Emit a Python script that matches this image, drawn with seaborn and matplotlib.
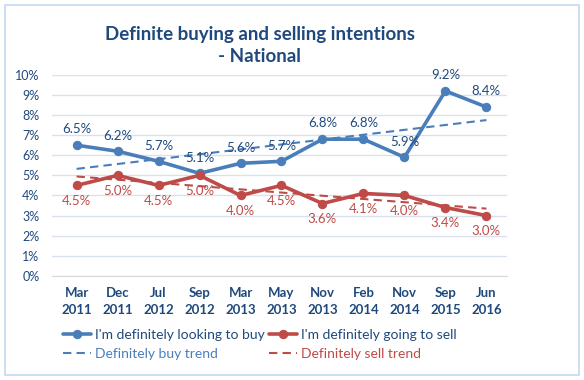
import numpy as np
import pandas as pd
import matplotlib
matplotlib.use("Agg")
import matplotlib.pyplot as plt
from matplotlib.patches import Rectangle
from matplotlib.ticker import FuncFormatter, FixedLocator
import seaborn as sns

# ---- Data ----------------------------------------------------------------
periods = ["Mar\n2011", "Dec\n2011", "Jul\n2012", "Sep\n2012", "Mar\n2013", "May\n2013",
           "Nov\n2013", "Feb\n2014", "Nov\n2014", "Sep\n2015", "Jun\n2016"]
buy_pct = [6.5, 6.2, 5.7, 5.1, 5.6, 5.7, 6.8, 6.8, 5.9, 9.2, 8.4]
sell_pct = [4.5, 5.0, 4.5, 5.0, 4.0, 4.5, 3.6, 4.1, 4.0, 3.4, 3.0]

BUY_COL = "#4A7EBB"
SELL_COL = "#BE4B48"
NAVY = "#1F497D"

idx = np.arange(len(periods))
df = pd.DataFrame({"idx": idx, "buy": buy_pct, "sell": sell_pct})

# linear trend lines, as Excel draws them
df["buy_trend"] = np.polyval(np.polyfit(idx, df["buy"], 1), idx)
df["sell_trend"] = np.polyval(np.polyfit(idx, df["sell"], 1), idx)

sns.set_style("white")
plt.rcParams["font.family"] = ["Lato", "DejaVu Sans"]

fig = plt.figure(figsize=(5.84, 3.80), dpi=100)
ax = fig.add_axes([0.089, 0.274, 0.779, 0.529])

sns.lineplot(data=df, x="idx", y="buy_trend", ax=ax, color=BUY_COL, lw=1.5,
             linestyle=(0, (4, 2.5)), label="Definitely buy trend")
sns.lineplot(data=df, x="idx", y="sell_trend", ax=ax, color=SELL_COL, lw=1.5,
             linestyle=(0, (4, 2.5)), label="Definitely sell trend")
sns.lineplot(data=df, x="idx", y="buy", ax=ax, color=BUY_COL, lw=2.6, marker="o",
             markersize=6, markeredgecolor=BUY_COL, label="I'm definitely looking to buy")
sns.lineplot(data=df, x="idx", y="sell", ax=ax, color=SELL_COL, lw=2.6, marker="o",
             markersize=6, markeredgecolor=SELL_COL, label="I'm definitely going to sell")

for i, (b, s) in enumerate(zip(buy_pct, sell_pct)):
    ax.annotate(f"{b:.1f}%", (i, b), xytext=(0, 7), textcoords="offset points",
                ha="center", va="bottom", fontsize=9.5, color=NAVY)
    ax.annotate(f"{s:.1f}%", (i, s), xytext=(0, -7), textcoords="offset points",
                ha="center", va="top", fontsize=9.5, color=SELL_COL)

ax.set_xlim(-0.6, 10.5)
ax.set_ylim(0, 10)
ax.set_yticks(range(0, 11))
ax.yaxis.set_major_formatter(FuncFormatter(lambda v, p: f"{int(v)}%"))
ax.set_xticks(idx)
ax.set_xticklabels(periods, fontsize=9.5, color=NAVY, fontweight="bold", linespacing=1.5)
ax.xaxis.set_minor_locator(FixedLocator(np.arange(-0.5, 11, 1)))
ax.tick_params(axis="x", which="major", length=0, pad=8)
ax.tick_params(axis="x", which="minor", length=4, color="#D9D9D9", direction="out")
ax.tick_params(axis="y", length=0, labelsize=9, labelcolor=NAVY, pad=9)
ax.grid(axis="y", color="#D9E1EE", lw=1)
ax.set_axisbelow(True)
for side in ["top", "right", "left"]:
    ax.spines[side].set_visible(False)
ax.spines["bottom"].set_color("#D9D9D9")
ax.set_xlabel("")
ax.set_ylabel("")

fig.text(0.445, 0.91, "Definite buying and selling intentions", ha="center", va="center",
         fontsize=13.5, fontweight="bold", color=NAVY)
fig.text(0.445, 0.85, "- National", ha="center", va="center",
         fontsize=13.5, fontweight="bold", color=NAVY)

handles, labels = ax.get_legend_handles_labels()
ax.get_legend().remove()
order = [2, 0, 3, 1]
leg = fig.legend([handles[i] for i in order], [labels[i] for i in order], ncol=2,
                 loc="center", bbox_to_anchor=(0.445, 0.093), frameon=False,
                 fontsize=10, handlelength=2.0, columnspacing=0.3, handletextpad=0.3,
                 labelspacing=0.5)
for t, c in zip(leg.get_texts(), [NAVY, BUY_COL, NAVY, SELL_COL]):
    t.set_color(c)

fig.patches.append(Rectangle((0.008, 0.012), 0.984, 0.975, transform=fig.transFigure,
                             fill=False, edgecolor="#C6D9F1", lw=1.2))

fig.savefig("out.png", dpi=100)
